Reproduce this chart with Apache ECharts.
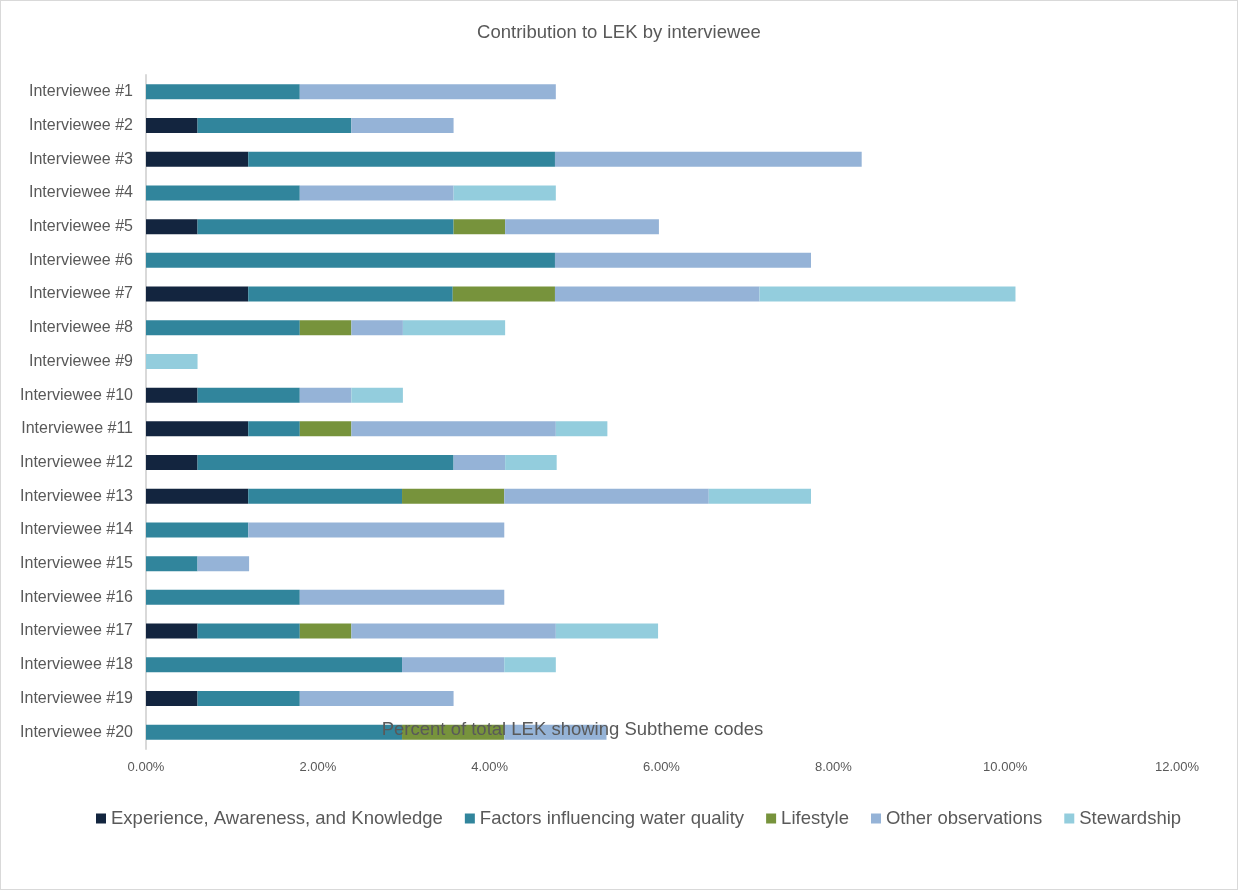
<!DOCTYPE html>
<html>
<head>
<meta charset="utf-8">
<title>Contribution to LEK by interviewee</title>
<script src="https://cdn.jsdelivr.net/npm/echarts@6/dist/echarts.min.js"></script>
<style>
  html, body { margin: 0; padding: 0; background: #fff; }
  #chart { width: 1238px; height: 890px; box-sizing: border-box; border: 1px solid #d9d9d9; }
</style>
</head>
<body>
<div id="chart"></div>
<script>
// categories, top to bottom
var interviewees = [
  "Interviewee #1", "Interviewee #2", "Interviewee #3", "Interviewee #4", "Interviewee #5",
  "Interviewee #6", "Interviewee #7", "Interviewee #8", "Interviewee #9", "Interviewee #10",
  "Interviewee #11", "Interviewee #12", "Interviewee #13", "Interviewee #14", "Interviewee #15",
  "Interviewee #16", "Interviewee #17", "Interviewee #18", "Interviewee #19", "Interviewee #20"
];

var seriesNames = [
  "Experience, Awareness, and Knowledge",
  "Factors influencing water quality",
  "Lifestyle",
  "Other observations",
  "Stewardship"
];

// percent of total LEK
var experience = [0, 0.60, 1.19, 0, 0.60, 0, 1.19, 0, 0, 0.60, 1.19, 0.60, 1.19, 0, 0, 0, 0.60, 0, 0.60, 0];
var factors = [1.79, 1.79, 3.57, 1.79, 2.98, 4.76, 2.38, 1.79, 0, 1.19, 0.60, 2.98, 1.79, 1.19, 0.60, 1.79, 1.19, 2.98, 1.19, 2.98];
var lifestyle = [0, 0, 0, 0, 0.60, 0, 1.19, 0.60, 0, 0, 0.60, 0, 1.19, 0, 0, 0, 0.60, 0, 0, 1.19];
var otherObs = [2.98, 1.19, 3.57, 1.79, 1.79, 2.98, 2.38, 0.60, 0, 0.60, 2.38, 0.60, 2.38, 2.98, 0.60, 2.38, 2.38, 1.19, 1.79, 1.19];
var stewardship = [0, 0, 0, 1.19, 0, 0, 2.98, 1.19, 0.60, 0.60, 0.60, 0.60, 1.19, 0, 0, 0, 1.19, 0.60, 0, 0];

var colors = ["#13253f", "#31859c", "#77933c", "#95b3d7", "#93cddd"];
var textColor = "#595959";

var allData = [experience, factors, lifestyle, otherObs, stewardship];
var series = [];
for (var i = 0; i < seriesNames.length; i++) {
  series.push({
    name: seriesNames[i],
    type: "bar",
    stack: "lek",
    barWidth: 15,
    data: allData[i]
  });
}

var option = {
  backgroundColor: "#ffffff",
  animation: false,
  color: colors,
  title: {
    text: "Contribution to LEK by interviewee",
    left: "center",
    top: 17,
    textStyle: { color: textColor, fontSize: 18.5, fontWeight: "normal", fontFamily: "Liberation Sans" }
  },
  legend: {
    data: seriesNames,
    bottom: 56,
    left: 90,
    itemWidth: 10,
    itemHeight: 10,
    itemGap: 22,
    icon: "rect",
    textStyle: { color: textColor, fontSize: 18.5, fontFamily: "Liberation Sans" }
  },
  grid: {
    left: 145,
    right: 60,
    top: 74,
    bottom: 140
  },
  xAxis: {
    type: "value",
    min: 0,
    max: 12,
    interval: 2,
    z: 5,
    name: "Percent of total LEK showing Subtheme codes",
    nameLocation: "middle",
    nameGap: -29,
    nameTextStyle: { color: textColor, fontSize: 18.5, fontFamily: "Liberation Sans", padding: [0, 178, 0, 0] },
    axisLine: { show: false },
    axisTick: { show: false },
    splitLine: { show: false },
    axisLabel: {
      color: textColor,
      fontSize: 13,
      fontFamily: "Liberation Sans",
      margin: 12,
      formatter: function (v) { return v.toFixed(2) + "%"; }
    }
  },
  yAxis: {
    type: "category",
    inverse: true,
    data: interviewees,
    axisLine: { show: true, lineStyle: { color: "#d9d9d9", width: 2 } },
    axisTick: { show: false },
    axisLabel: { color: textColor, fontSize: 16, fontFamily: "Liberation Sans", margin: 13 }
  },
  series: series
};

var myChart = echarts.init(document.getElementById("chart"));
myChart.setOption(option);
</script>
</body>
</html>
